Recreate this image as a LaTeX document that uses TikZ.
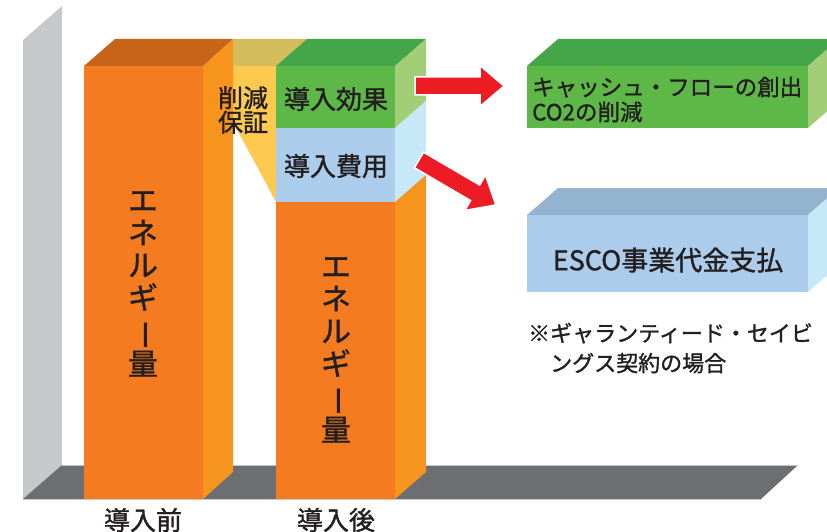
\documentclass[tikz,border=0pt]{standalone}
\usepackage{fontspec}
\usepackage{graphicx}
\setmainfont{Noto Sans CJK JP}[FakeBold=1.3]
\definecolor{ink}{HTML}{231F20}
\definecolor{orfront}{HTML}{F47B20}
\definecolor{orside}{HTML}{F7941D}
\definecolor{ortop}{HTML}{C8631A}
\definecolor{yefront}{HTML}{FDC94F}
\definecolor{yetop}{HTML}{D3BC5C}
\definecolor{grfront}{HTML}{5EB847}
\definecolor{grtop}{HTML}{45A549}
\definecolor{grside}{HTML}{A1CE76}
\definecolor{blfront}{HTML}{ABCDEB}
\definecolor{bltop}{HTML}{93B3CF}
\definecolor{blside}{HTML}{C6E8F8}
\definecolor{wallgray}{HTML}{C7C8CA}
\definecolor{floorgray}{HTML}{6D6E71}
\definecolor{redarrow}{HTML}{ED1C24}
\newcommand\jfs[2]{\fontsize{#1}{#2}\selectfont}
\newcommand\vbar{\hspace*{0.5em}\rotatebox[origin=c]{90}{ー}}
\begin{document}
\begin{tikzpicture}[x=1pt,y=-1pt,
  txt/.style={text=ink, inner sep=0pt},
  bigarrow/.style={fill=redarrow, draw=white, line width=1.5pt, line join=miter}]
\useasboundingbox (0,0) rectangle (827,532);
\clip (0,0) rectangle (827,532);

% back wall and floor
\fill[wallgray] (23,40) -- (62,6) -- (62,465) -- (23,499) -- cycle;
\fill[floorgray] (23,499) -- (62,465) -- (798,465) -- (761,499) -- cycle;
\draw[gray!45, line width=0.8pt] (62,465) -- (798,465);
\draw[gray!45, line width=0.8pt] (23,499) -- (761,499);

% yellow (savings guarantee) wedge
\fill[yefront] (203,66) -- (276,66) -- (276,202) -- cycle;
\fill[yetop] (203,66) -- (233,39) -- (307,39) -- (276,66) -- cycle;

% left bar (before)
\fill[orfront] (84,66) rectangle (203,499);
\fill[ortop] (84,66) -- (115,39) -- (233,39) -- (203,66) -- cycle;
\fill[orside] (203,66) -- (233,39) -- (233,472) -- (203,499) -- cycle;

% right bar (after)
\fill[grfront] (276,66) rectangle (395,128);
\fill[blfront] (276,128) rectangle (395,202);
\fill[orfront] (276,202) rectangle (395,499);
\fill[grtop] (276,66) -- (307,39) -- (426,39) -- (395,66) -- cycle;
\fill[grside] (395,66) -- (426,39) -- (426,101) -- (395,128) -- cycle;
\fill[blside] (395,128) -- (426,101) -- (426,175) -- (395,202) -- cycle;
\fill[orside] (395,202) -- (426,175) -- (426,472) -- (395,499) -- cycle;

% right boxes
\fill[grfront] (527,66) rectangle (808,128);
\fill[grtop] (527,66) -- (558,39) -- (839,39) -- (808,66) -- cycle;
\fill[grside] (808,66) -- (839,39) -- (839,101) -- (808,128) -- cycle;
\fill[blfront] (527,215) rectangle (808,292);
\fill[bltop] (527,215) -- (558,188) -- (839,188) -- (808,215) -- cycle;
\fill[blside] (808,215) -- (839,188) -- (839,265) -- (808,292) -- cycle;

% arrows
\begin{scope}[shift={(415,86)}]
\filldraw[bigarrow] (0,-9) -- (65,-9) -- (65,-20.5) -- (89,0) -- (65,20.5) -- (65,9) -- (0,9) -- cycle;
\end{scope}
\begin{scope}[shift={(419,160)}, rotate=-30.3]
\filldraw[bigarrow] (0,-9) -- (65,-9) -- (65,-20.5) -- (89,0) -- (65,20.5) -- (65,9) -- (0,9) -- cycle;
\end{scope}

% texts
\node[txt, align=center, font=\jfs{30}{32.5}] (eleft) at (143,284)
  {エ\\ネ\\ル\\ギ\\\vbar\\量};
\node[txt, align=center, font=\jfs{30}{32.5}] (eright) at (336,350)
  {エ\\ネ\\ル\\ギ\\\vbar\\量};
\node[txt, font=\jfs{26}{26}] (kouka) at (336,99) {導入効果};
\node[txt, font=\jfs{26}{26}] (hiyou) at (336,166) {導入費用};
\node[txt, align=center, font=\jfs{25}{24.5}] (hosho) at (243,110) {削減\\保証};
\node[txt, align=left, anchor=west, font=\jfs{22.5}{25}] (cash) at (532,99.5)
  {キャッシュ・フローの創出\\CO2の削減};
\node[txt, font=\jfs{27}{27}] (esco) at (668,260) {ESCO事業代金支払};
\node[txt, align=left, anchor=west, font=\jfs{22}{30}] (note) at (528,348)
  {※ギャランティード・セイビ\\　ングス契約の場合};
\node[txt, font=\jfs{26}{26}] (mae) at (143,520) {導入前};
\node[txt, font=\jfs{26}{26}] (ato) at (336,520) {導入後};
\end{tikzpicture}
\end{document}
